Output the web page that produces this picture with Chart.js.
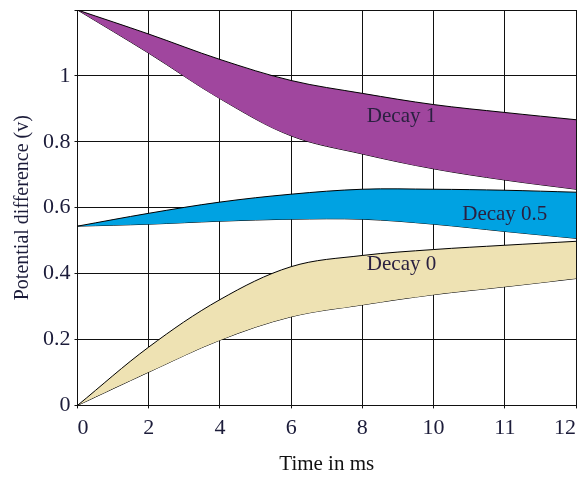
<!DOCTYPE html>
<html>
<head>
<meta charset="utf-8">
<script src="https://cdn.jsdelivr.net/npm/chart.js@4.4.0/dist/chart.umd.min.js"></script>
<style>
  html, body { margin: 0; padding: 0; background: #fff; }
  #wrap { width: 579px; height: 477px; }
</style>
</head>
<body>
<div id="wrap"><canvas id="c" width="579" height="477"></canvas></div>
<script>
// ---- data ----
const timeLabels = ['0', '2', '4', '6', '8', '10', '11', '12'];
const decay1Upper = [1.2, 1.127, 1.050, 0.986, 0.947, 0.913, 0.889, 0.867];
const decay1Lower = [1.2, 1.069, 0.931, 0.818, 0.763, 0.718, 0.684, 0.656];
const decay05Upper = [0.544, 0.583, 0.617, 0.641, 0.656, 0.656, 0.653, 0.647];
const decay05Lower = [0.544, 0.550, 0.559, 0.565, 0.565, 0.550, 0.528, 0.507];
const decay0Upper = [0, 0.177, 0.321, 0.421, 0.455, 0.473, 0.486, 0.498];
const decay0Lower = [0, 0.101, 0.198, 0.269, 0.305, 0.336, 0.360, 0.385];
const bandNames = ['Decay 1', 'Decay 0.5', 'Decay 0'];
const yTickMax = 1.2;

const serif = '"Liberation Serif", "Times New Roman", serif';
const textColor = '#1c1c3a';

function band(upper, lower, color) {
  return [
    { data: upper, fill: '+1', backgroundColor: color, borderColor: '#000', borderWidth: 1,
      pointRadius: 0, tension: 0.35 },
    { data: lower, fill: false, backgroundColor: color, borderColor: '#000', borderWidth: 1,
      pointRadius: 0, tension: 0.35 }
  ];
}

const bandLabels = {
  id: 'bandLabels',
  afterDraw(chart, args, opts) {
    const { ctx, scales } = chart;
    ctx.save();
    ctx.font = '21px ' + serif;
    ctx.fillStyle = '#2a2040';
    ctx.textAlign = 'center';
    ctx.textBaseline = 'middle';
    opts.items.forEach(it => {
      ctx.fillText(it.text, scales.x.getPixelForValue(it.x), scales.y.getPixelForValue(it.y));
    });
    ctx.restore();
  }
};

function noEdgePad(scale) {
  scale.paddingTop = 0; scale.paddingBottom = 0;
  scale.paddingLeft = 0; scale.paddingRight = 0;
}

new Chart(document.getElementById('c'), {
  type: 'line',
  data: {
    labels: timeLabels,
    datasets: [
      ...band(decay1Upper, decay1Lower, '#A0469E'),
      ...band(decay05Upper, decay05Lower, '#00A2E2'),
      ...band(decay0Upper, decay0Lower, '#EEE2B3')
    ]
  },
  options: {
    responsive: false,
    animation: false,
    layout: { padding: { top: 10, right: 3, left: 11, bottom: 0 } },
    plugins: {
      legend: { display: false },
      tooltip: { enabled: false },
      bandLabels: {
        items: [
          { text: bandNames[0], x: 4.55, y: 0.877 },
          { text: bandNames[1], x: 6.0, y: 0.58 },
          { text: bandNames[2], x: 4.55, y: 0.427 }
        ]
      }
    },
    scales: {
      x: {
        type: 'category',
        offset: false,
        z: 1,
        afterFit: noEdgePad,
        border: { display: true, color: '#111', width: 1 },
        grid: { color: '#111', lineWidth: 1, offset: false, tickLength: 3 },
        ticks: { font: { family: serif, size: 22 }, color: textColor, padding: 7,
                 maxRotation: 0, autoSkip: false, align: 'inner' },
        title: { display: true, text: 'Time in ms', font: { family: serif, size: 21 },
                 color: '#111', padding: { top: 3, bottom: 0 } }
      },
      y: {
        type: 'linear',
        min: 0,
        max: yTickMax,
        z: 1,
        afterFit: noEdgePad,
        border: { display: true, color: '#111', width: 1 },
        grid: { color: '#111', lineWidth: 1, tickLength: 3 },
        ticks: { stepSize: 0.2, font: { family: serif, size: 22 }, color: textColor, padding: 4,
                 callback: v => (v > 1.1 ? '' : String(+v.toFixed(1))) },
        title: { display: true, text: 'Potential difference (v)', font: { family: serif, size: 20 },
                 color: textColor, padding: { top: 0, bottom: 4 } }
      }
    }
  },
  plugins: [bandLabels]
});
</script>
</body>
</html>
